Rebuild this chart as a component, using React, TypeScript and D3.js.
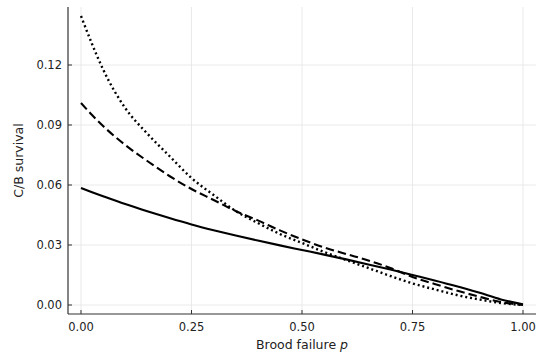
import React from "react";
import * as d3 from "d3";

// Brood failure probability grid
const pValues = [0, 0.025, 0.05, 0.1, 0.15, 0.2, 0.25, 0.3, 0.35, 0.4, 0.45, 0.5, 0.55, 0.6, 0.65, 0.7, 0.75, 0.8, 0.85, 0.9, 0.95, 1.0];

// C/B survival for three scenarios
const solidSeries = [0.0585, 0.0564, 0.0544, 0.0505, 0.0469, 0.0435, 0.0403, 0.0374, 0.0347, 0.0322, 0.0298, 0.0275, 0.0252, 0.0228, 0.0203, 0.0177, 0.015, 0.0123, 0.0094, 0.0062, 0.0028, 0.0003];
const dashedSeries = [0.101, 0.095, 0.0895, 0.080, 0.072, 0.0645, 0.058, 0.0525, 0.047, 0.0423, 0.0373, 0.0328, 0.0288, 0.0255, 0.0223, 0.0185, 0.0140, 0.0105, 0.0072, 0.0042, 0.0015, 0.0];
const dottedSeries = [0.1445, 0.1305, 0.1178, 0.0985, 0.0857, 0.0745, 0.0635, 0.055, 0.047, 0.041, 0.0355, 0.031, 0.0265, 0.0225, 0.0185, 0.0145, 0.0108, 0.0078, 0.005, 0.0028, 0.001, 0.0];

const xTicks = [0, 0.25, 0.5, 0.75, 1.0];
const yTicks = [0, 0.03, 0.06, 0.09, 0.12];

const W = 536;
const H = 354;
const plot = { left: 68, right: 536, top: 7, bottom: 314 };

export default function App() {
  const x = d3.scaleLinear().domain([-0.0294, 1.0294]).range([plot.left, plot.right]);
  const y = d3.scaleLinear().domain([-0.0045, 0.1490]).range([plot.bottom, plot.top]);

  const line = d3
    .line<number>()
    .x((_, i) => x(pValues[i]))
    .y((d) => y(d))
    .curve(d3.curveMonotoneX);

  const series = [
    { values: solidSeries, dash: undefined as string | undefined, width: 2.1 },
    { values: dashedSeries, dash: "8.5,4", width: 2.1 },
    { values: dottedSeries, dash: "2,2.9", width: 2.4 },
  ];

  const font = "'DejaVu Sans', sans-serif";
  const textColor = "#222";

  return (
    <svg width={W} height={H} style={{ position: "absolute", left: 0, top: 0, background: "#fff" }}>
      <defs>
        <clipPath id="plotArea">
          <rect x={plot.left} y={plot.top} width={plot.right - plot.left} height={plot.bottom - plot.top} />
        </clipPath>
      </defs>
      {/* grid */}
      {xTicks.map((t) => (
        <line key={"gx" + t} x1={x(t)} x2={x(t)} y1={plot.top} y2={plot.bottom} stroke="#e4e4e4" strokeWidth={0.8} />
      ))}
      {yTicks.map((t) => (
        <line key={"gy" + t} x1={plot.left} x2={plot.right} y1={y(t)} y2={y(t)} stroke="#e4e4e4" strokeWidth={0.8} />
      ))}

      {/* curves */}
      <g clipPath="url(#plotArea)">
        {series.map((s, i) => (
          <path
            key={i}
            d={line(s.values) ?? ""}
            fill="none"
            stroke="#000"
            strokeWidth={s.width}
            strokeDasharray={s.dash}
          />
        ))}
      </g>

      {/* axes */}
      <line x1={plot.left} x2={plot.left} y1={plot.top} y2={plot.bottom} stroke="#333" strokeWidth={1.2} />
      <line x1={plot.left} x2={plot.right} y1={plot.bottom} y2={plot.bottom} stroke="#333" strokeWidth={1.2} />
      {xTicks.map((t) => (
        <g key={"tx" + t}>
          <line x1={x(t)} x2={x(t)} y1={plot.bottom} y2={plot.bottom - 4} stroke="#333" strokeWidth={1} />
          <text x={x(t)} y={331} textAnchor="middle" fontFamily={font} fontSize={11.5} fill={textColor}>
            {d3.format(".2f")(t)}
          </text>
        </g>
      ))}
      {yTicks.map((t) => (
        <g key={"ty" + t}>
          <line x1={plot.left} x2={plot.left + 4} y1={y(t)} y2={y(t)} stroke="#333" strokeWidth={1} />
          <text x={62} y={y(t) + 4} textAnchor="end" fontFamily={font} fontSize={11.5} fill={textColor}>
            {d3.format(".2f")(t)}
          </text>
        </g>
      ))}

      {/* axis titles */}
      <text x={302} y={349} textAnchor="middle" fontFamily={font} fontSize={12.5} fill={textColor}>
        Brood failure <tspan fontStyle="italic">p</tspan>
      </text>
      <text
        transform={`translate(23, ${(plot.top + plot.bottom) / 2}) rotate(-90)`}
        textAnchor="middle"
        fontFamily={font}
        fontSize={12.5}
        fill={textColor}
      >
        C/B survival
      </text>
    </svg>
  );
}
